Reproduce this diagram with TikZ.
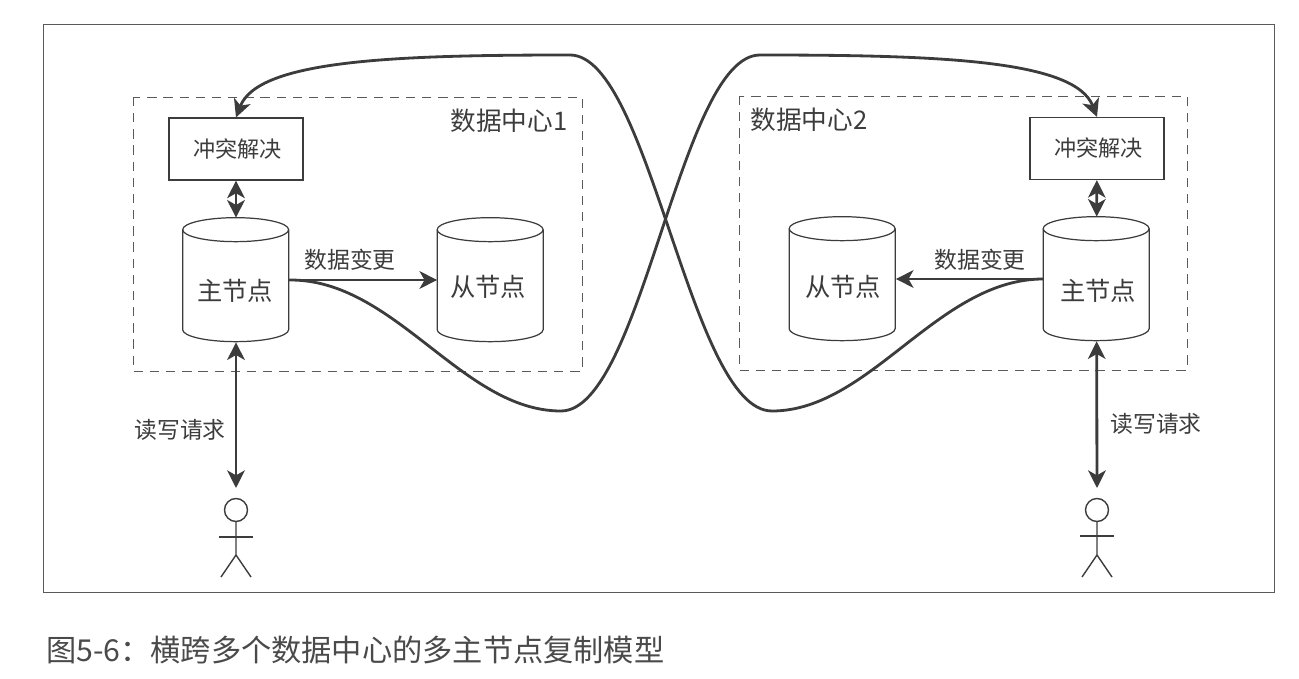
\documentclass[tikz,border=0pt]{standalone}
\usepackage{fontspec}
\setmainfont{Noto Sans CJK SC}
\usetikzlibrary{arrows.meta}
\definecolor{ink}{HTML}{3C3C3C}
\definecolor{capt}{HTML}{4A4A4A}
\definecolor{rule}{HTML}{5A5A5A}
\tikzset{
    dcbox/.style={draw=rule, dash pattern=on 5.3pt off 3.9pt, line width=0.55pt},
    resbox/.style={rectangle, draw=ink, line width=0.65pt, minimum width=2.68cm, minimum height=1.24cm, inner sep=0pt, text=ink, font=\fontsize{12.6pt}{14pt}\selectfont},
    db/.style={rectangle, minimum width=2.12cm, minimum height=2.48cm, inner sep=0pt},
    dbtext/.style={text=ink, font=\fontsize{14.4pt}{16pt}\selectfont},
    lbl/.style={text=ink, font=\fontsize{13pt}{15pt}\selectfont},
    dclbl/.style={text=ink, font=\fontsize{14.6pt}{16pt}\selectfont},
    arr/.style={draw=ink, line width=1.6pt, -{Stealth[length=10pt,width=10pt,inset=2.8pt]}},
    arrboth/.style={draw=ink, line width=1.6pt, {Stealth[length=10pt,width=10pt,inset=2.8pt]}-{Stealth[length=10pt,width=10pt,inset=2.8pt]}},
    stick/.style={draw=ink, line width=0.8pt}
}
% outline of a database drum around a named node
\newcommand{\drum}[1]{
    \draw[ink, line width=0.7pt] (#1.north west) ++(0,12)
        arc[start angle=180, end angle=0, x radius=1.06cm, y radius=0.24cm]
        -- ++(0,100)
        arc[start angle=0, end angle=-180, x radius=1.06cm, y radius=0.24cm]
        -- cycle;
    \draw[ink, line width=0.7pt] (#1.north west) ++(0,12)
        arc[start angle=180, end angle=360, x radius=1.06cm, y radius=0.24cm];
}
\begin{document}
\begin{tikzpicture}[x=0.02cm, y=-0.02cm]
    \useasboundingbox (0,0) rectangle (1299,679);
    % frame
    \draw[rule, line width=0.55pt] (43,24) rectangle (1274,592);
    \draw[dcbox] (133,97) rectangle (582,371);
    \draw[dcbox] (739,96) rectangle (1187,370);
    \node[dclbl] (dc1) at (509,121) {数据中心1};
    \node[dclbl] (dc2) at (809,120) {数据中心2};

    % data centre 1
    \node[resbox] (res1) at (236,149) {\kern2pt 冲突解决};
    \node[db] (lead1) at (236,280) {};
    \node[db] (foll1) at (490.5,280) {};
    \drum{lead1}
    \drum{foll1}
    \node[dbtext] (lead1t) at (235,291) {主节点};
    \node[dbtext] (foll1t) at (488,287) {从节点};
    \node[lbl] (chg1) at (350,260) {数据变更};

    % data centre 2
    \node[resbox] (res2) at (1097,148.5) {\kern2pt 冲突解决};
    \node[db] (lead2) at (1096.5,279) {};
    \node[db] (foll2) at (842.5,279) {};
    \drum{lead2}
    \drum{foll2}
    \node[dbtext] (lead2t) at (1098,291) {主节点};
    \node[dbtext] (foll2t) at (843,287) {从节点};
    \node[lbl] (chg2) at (980,260) {数据变更};

    % users
    \coordinate (u1) at (236,488);
    \coordinate (u2) at (1097,488);
    \node[lbl] (rw1) at (180,430) {读写请求};
    \node[lbl] (rw2) at (1156,424) {读写请求};
    \node[circle, stick, minimum width=0.46cm, inner sep=0pt] (head1) at (236,510) {};
    \node[circle, stick, minimum width=0.46cm, inner sep=0pt] (head2) at (1097,510) {};
    \coordinate (hip1) at (236,555);
    \coordinate (hip2) at (1097,555);
    \draw[stick] (head1) -- (hip1) -- (221,577);
    \draw[stick] (hip1) -- (251,577);
    \draw[stick] (219,537) -- (253,537);
    \draw[stick] (head2) -- (hip2) -- (1082,577);
    \draw[stick] (hip2) -- (1112,577);
    \draw[stick] (1080,536) -- (1114,536);

    % arrows
    \draw[arrboth] (res1) -- (lead1);
    \draw[arrboth] (res2) -- (lead2);
    \draw[arrboth] (lead1) -- (u1);
    \draw[arrboth] (lead2) -- (u2);
    \draw[arr] (lead1.east) -- (foll1.west);
    \draw[arr] (lead2.west) -- (foll2.east);

    \draw[arr] (lead1.east) .. controls (395,279) and (462,411) .. (561,411)
        .. controls (642,411) and (680,55) .. (760,55)
        .. controls (940,55) and (1075,60) .. (res2.north);
    \draw[arr] (lead2.west) .. controls (938,279) and (870,411) .. (772,411)
        .. controls (690,411) and (650,55) .. (570,55)
        .. controls (395,55) and (258,60) .. (res1.north);

    % caption
    \node[anchor=west, text=capt, font=\fontsize{17.2pt}{19pt}\selectfont] (capt) at (40,650) {图5-6：横跨多个数据中心的多主节点复制模型};
\end{tikzpicture}
\end{document}
